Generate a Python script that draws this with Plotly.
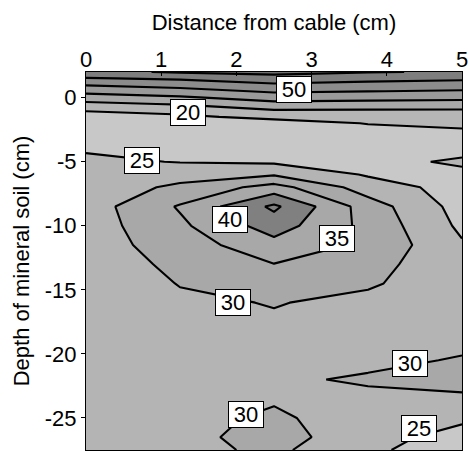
import plotly.graph_objects as go

# Sampling columns: distance from the cable (cm)
x_cols = [0, 1.25, 2.5, 3.75, 5]

# Surface block: rows from 2 cm above to 3.5 cm below the mineral soil surface
y_upper = [2, 1.5, 1, 0.5, 0, -0.5, -1, -1.5, -2, -2.5, -3, -3.5]
z_upper = [
    [67.7, 71.0, 72.9, 70.5, 69.2],
    [59.3, 61.5, 65.7, 63.3, 61.8],
    [50.7, 53.8, 58.6, 56.7, 55.4],
    [42.9, 46.2, 51.4, 50.2, 49.1],
    [35.2, 38.5, 44.3, 43.3, 42.7],
    [27.6, 30.8, 36.9, 36.2, 35.5],
    [20.3, 22.5, 29.3, 29.1, 29.1],
    [18.0, 18.5, 22.1, 24.7, 25.8],
    [17.0, 17.5, 16.8, 20.3, 22.6],
    [16.5, 17.0, 16.5, 18.5, 19.4],
    [16.0, 16.5, 16.5, 17.5, 18.0],
    [16.0, 16.5, 16.5, 17.5, 18.0],
]

# Mineral soil block: rows from 3 cm down to 27.5 cm depth
y_lower = [-3, -4, -5, -6, -7, -8.5, -10, -11.5, -13, -14.5, -16,
           -17.5, -19, -20.5, -22, -23.5, -25, -26.5, -27.5]
z_lower = [
    [22.0, 21.5, 21.0, 21.0, 22.0],
    [24.5, 23.0, 22.5, 22.5, 23.0],
    [26.0, 24.8, 24.2, 23.0, 26.0],
    [26.5, 28.0, 29.5, 24.5, 23.5],
    [27.0, 31.0, 37.0, 27.5, 23.0],
    [27.5, 35.5, 46.0, 32.5, 23.0],
    [27.5, 34.0, 42.4, 33.5, 24.0],
    [27.5, 32.5, 38.3, 34.0, 25.5],
    [27.0, 31.2, 34.9, 31.5, 27.0],
    [26.5, 30.2, 32.7, 30.5, 27.5],
    [26.5, 29.2, 30.2, 29.0, 27.5],
    [26.5, 28.5, 29.5, 28.5, 28.0],
    [26.5, 28.0, 29.0, 28.0, 28.5],
    [27.0, 28.0, 29.0, 28.5, 30.5],
    [27.0, 28.0, 29.0, 30.8, 32.0],
    [27.0, 28.0, 29.5, 28.5, 29.0],
    [27.0, 28.5, 30.8, 27.5, 26.0],
    [27.0, 28.5, 32.0, 27.0, 23.0],
    [27.0, 28.5, 31.0, 26.0, 22.0],
]

# Contour levels of each block
upper_levels = dict(start=20, end=80, size=10)
lower_levels = dict(start=20, end=45, size=5)

# Gray fill of each band, from below the first level to above the last one
upper_grays = ["#c8c8c8", "#b6b6b6", "#a8a8a8", "#9a9a9a",
               "#8c8c8c", "#7e7e7e", "#707070", "#646464"]
lower_grays = ["#c8c8c8", "#c8c8c8", "#b4b4b4", "#a8a8a8",
               "#a8a8a8", "#808080", "#808080"]

# Axis ticks
x_ticks = [0, 1, 2, 3, 4, 5]
y_ticks = [0, -5, -10, -15, -20, -25]
y_ticktext = ["0", "-5", "-10", "-15", "-20", "-25"]

# Contour labels: level value and where the label box sits
label_levels = [50, 20, 25, 40, 35, 30, 30, 30, 25]
label_x = [2.76, 1.35, 0.75, 1.92, 3.34, 1.96, 4.31, 2.13, 4.43]
label_y = [0.6, -1.19, -4.89, -9.48, -11.03, -16.0, -20.76, -24.73, -25.86]

FONT = "Arial, Liberation Sans, sans-serif"


def band_scale(grays):
    n = len(grays) - 1
    return [[i / n, g] for i, g in enumerate(grays)]


def contour(y, z, levels, grays):
    return go.Contour(
        x=x_cols, y=y, z=z,
        autocontour=False,
        contours=dict(coloring="fill", showlabels=False, **levels),
        colorscale=band_scale(grays),
        showscale=False,
        line=dict(color="black", width=2.1, smoothing=0),
        hoverinfo="skip",
    )


fig = go.Figure()
fig.add_trace(contour(y_lower, z_lower, lower_levels, lower_grays))
fig.add_trace(contour(y_upper, z_upper, upper_levels, upper_grays))

for lv, lx, ly in zip(label_levels, label_x, label_y):
    fig.add_annotation(
        x=lx, y=ly, xref="x", yref="y", text=str(lv), showarrow=False,
        font=dict(family=FONT, size=22, color="black"),
        bgcolor="white", bordercolor="black", borderwidth=1, borderpad=1,
        width=32, height=23,
    )

fig.update_layout(
    width=470, height=453,
    margin=dict(l=86, r=5, t=72, b=2),
    paper_bgcolor="white", plot_bgcolor="white",
    font=dict(family=FONT, size=22, color="black"),
    showlegend=False,
    xaxis=dict(
        side="top", range=[0, 5], tickvals=x_ticks,
        ticks="inside", ticklen=4, tickcolor="black",
        showline=True, linecolor="black", linewidth=1, mirror=True,
        showgrid=False, zeroline=False,
        tickfont=dict(size=22), ticklabelstandoff=-5,
        ticklabeloverflow="allow",
        title=dict(text="Distance from cable (cm)", font=dict(size=22), standoff=10),
    ),
    yaxis=dict(
        range=[-27.5, 2], tickvals=y_ticks, ticktext=y_ticktext,
        ticks="outside", ticklen=4, tickcolor="black",
        showline=True, linecolor="black", linewidth=1, mirror=True,
        showgrid=False, zeroline=False,
        tickfont=dict(size=22),
        title=dict(text="Depth of mineral soil (cm)", font=dict(size=22), standoff=9),
    ),
)

fig.write_html("out.html")
